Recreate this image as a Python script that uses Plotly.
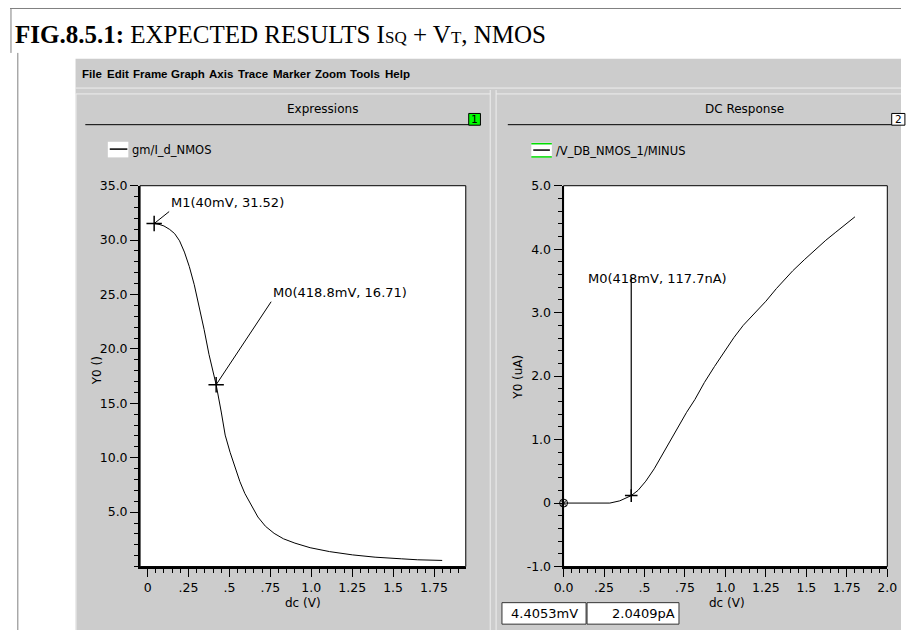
import plotly.graph_objects as go

W, H = 911, 637

# ---------------- data ----------------
# Left panel: gm/I_d of the NMOS vs dc sweep (V)
gm_x = [0.04, 0.07, 0.10, 0.135, 0.165, 0.195, 0.225, 0.255, 0.285, 0.315, 0.345, 0.375,
        0.4188, 0.45, 0.474, 0.504, 0.534, 0.564, 0.594, 0.634, 0.674, 0.72, 0.773,
        0.83, 0.90, 0.993, 1.112, 1.252, 1.39, 1.55, 1.65, 1.8]
gm_y = [31.52, 31.45, 31.3, 30.98, 30.6, 29.94, 28.9, 27.56, 25.9, 23.99, 21.8, 19.5,
        16.71, 14.2, 12.08, 10.5, 9.1, 7.8, 6.72, 5.6, 4.55, 3.7, 3.05,
        2.55, 2.15, 1.73, 1.37, 1.07, 0.86, 0.71, 0.62, 0.56]

# Right panel: /V_DB_NMOS_1/MINUS current (uA) vs dc sweep (V)
id_x = [0.0, 0.1, 0.2, 0.286, 0.347, 0.418, 0.46, 0.508, 0.56, 0.609, 0.66, 0.71, 0.76,
        0.811, 0.87, 0.932, 0.99, 1.053, 1.11, 1.174, 1.25, 1.315, 1.416, 1.49, 1.557,
        1.62, 1.678, 1.74, 1.8]
id_y = [0.0, 0.0, 0.0, 0.0, 0.035, 0.1177, 0.2, 0.345, 0.54, 0.755, 0.99, 1.22, 1.43,
        1.63, 1.9, 2.15, 2.38, 2.61, 2.8, 2.97, 3.18, 3.38, 3.66, 3.84, 4.0,
        4.14, 4.26, 4.39, 4.51]

# markers
left_mk_x = [0.04, 0.4188]
left_mk_y = [31.52, 16.71]
left_mk_lbl = ["M1(40mV, 31.52)", "M0(418.8mV, 16.71)"]
right_mk_x = [0.418]
right_mk_y = [0.1177]
right_mk_lbl = ["M0(418mV, 117.7nA)"]

# ticks
left_xt = [0, 0.25, 0.5, 0.75, 1.0, 1.25, 1.5, 1.75]
left_xt_txt = ["0", ".25", ".5", ".75", "1.0", "1.25", "1.5", "1.75"]
left_yt = [5, 10, 15, 20, 25, 30, 35]
left_yt_txt = ["5.0", "10.0", "15.0", "20.0", "25.0", "30.0", "35.0"]
right_xt = [0, 0.25, 0.5, 0.75, 1.0, 1.25, 1.5, 1.75, 2.0]
right_xt_txt = ["0.0", ".25", ".5", ".75", "1.0", "1.25", "1.5", "1.75", "2.0"]
right_yt = [-1, 0, 1, 2, 3, 4, 5]
right_yt_txt = ["-1.0", "0", "1.0", "2.0", "3.0", "4.0", "5.0"]

menu_items = ["File", "Edit", "Frame", "Graph", "Axis", "Trace", "Marker", "Zoom", "Tools", "Help"]

# ---------------- helpers ----------------
def px(x):
    return x / W

def py(y):
    return 1 - y / H

GRAY = "#cccccc"
LIGHT = "#eeeeee"
UI_FONT = "DejaVu Sans"

shapes = []

def rect(x0, y0, x1, y1, fill=None, line=None, lw=1, layer="below"):
    shapes.append(dict(type="rect", xref="paper", yref="paper",
                       x0=px(x0), x1=px(x1), y0=py(y1), y1=py(y0),
                       fillcolor=fill if fill else "rgba(0,0,0,0)",
                       line=dict(color=line if line else "rgba(0,0,0,0)", width=lw if line else 0),
                       layer=layer))

def hline(x0, x1, y, color, lw=1, layer="below"):
    shapes.append(dict(type="line", xref="paper", yref="paper", x0=px(x0), x1=px(x1),
                       y0=py(y), y1=py(y), line=dict(color=color, width=lw), layer=layer))

def vline(x, y0, y1, color, lw=1, layer="below"):
    shapes.append(dict(type="line", xref="paper", yref="paper", x0=px(x), x1=px(x),
                       y0=py(y0), y1=py(y1), line=dict(color=color, width=lw), layer=layer))

annotations = []

def text(t, x, y, size=12, xanchor="left", yanchor="middle", family=UI_FONT, color="black",
         angle=0):
    annotations.append(dict(text=t, x=px(x), y=py(y), xref="paper", yref="paper",
                            xanchor=xanchor, yanchor=yanchor, showarrow=False,
                            textangle=angle, font=dict(family=family, size=size, color=color)))

# ---------------- page frame ----------------
hline(0, W, 0.5, "#808080")
vline(1, 0, 46, "#808080")
vline(8, 46, H, "#808080")

# screenshot background
rect(67, 52, W, H, fill=GRAY)
hline(67, W, 82, LIGHT)
# panel bevels
hline(67, 491, 88, LIGHT)
hline(497, W, 88, LIGHT)
vline(67.5, 88, H, LIGHT)
vline(491, 84, H, LIGHT)
vline(497, 84, H, LIGHT)

# panel title underlines and numbered boxes
hline(77, 481, 119.5, "black")
hline(509, 902, 119.5, "black")
rect(469, 108, 481, 120, fill="#00ff00", line="black")
text("1", 475, 114, size=11, xanchor="center", family="DejaVu Sans Mono")
rect(901.5, 108, 915, 120, fill="white", line="black")
text("2", 903, 114, size=11, xanchor="left", family="DejaVu Sans Mono")

# legend swatches
rect(100, 137, 121, 153, fill="white")
hline(102, 120, 144.5, "black", lw=1.5)
rect(533, 138, 554, 153, fill="white")
hline(533, 554, 139, "#00dd00", lw=1.5)
hline(533, 554, 152.5, "#00dd00", lw=1.5)
hline(535, 552, 145.5, "black", lw=1.5)

# plot areas (white)
L = (133, 466, 182, 572)
R = (566, 897, 182, 572)
rect(L[0], L[2], L[1], L[3], fill="white", line="black", lw=1)
rect(R[0], R[2], R[1], R[3], fill="white", line="black", lw=1)

# status boxes
rect(503, 609, 589, 631, fill="white", line="#333333")
rect(590, 609, 684, 631, fill="white", line="#333333")
text("4.4053mV", 510, 620, size=13)
text("2.0409pA", 682, 620, size=13, xanchor="right")

# ---------------- texts ----------------
text("<b>FIG.8.5.1:</b> EXPECTED RESULTS I<span style='font-size:17px'>SQ</span> + "
     "V<span style='font-size:17px'>T</span>, NMOS",
     3, 27, size=25, family="Liberation Serif")

# menu words laid out left-to-right (Liberation Sans Bold advance widths, em)
menu_em = {"File": 1.723, "Edit": 1.889, "Frame": 3.001, "Graph": 2.945, "Axis": 2.112,
           "Trace": 2.668, "Marker": 3.279, "Zoom": 2.722, "Tools": 2.667, "Help": 2.167}
MENU_SIZE = 11.5
mx = 72.0
for m in menu_items:
    text("<b>%s</b>" % m, mx, 68, size=MENU_SIZE, family="Liberation Sans")
    mx += menu_em[m] * MENU_SIZE + 5.0

text("Expressions", 320, 103, size=12, xanchor="center")
text("DC Response", 751, 103, size=12, xanchor="center")
text("gm/I_d_NMOS", 123, 145, size=11.5)
text("/V_DB_NMOS_1/MINUS", 556, 146, size=11.5)
text("dc (V)", 300, 609, size=12, xanchor="center")
text("dc (V)", 733, 609, size=12, xanchor="center")
text("Y0 ()", 89, 372, size=12, xanchor="center", angle=-90)
text("Y0 (uA)", 519, 378, size=12, xanchor="center", angle=-90)

# ---------------- figure ----------------
fig = go.Figure()
fig.add_trace(go.Scatter(x=gm_x, y=gm_y, mode="lines", line=dict(color="black", width=1),
                         xaxis="x", yaxis="y", hoverinfo="skip"))
fig.add_trace(go.Scatter(x=left_mk_x, y=left_mk_y, mode="markers", xaxis="x", yaxis="y",
                         marker=dict(symbol="cross-thin", size=11,
                                     line=dict(color="black", width=1.5))))
fig.add_trace(go.Scatter(x=id_x, y=id_y, mode="lines", line=dict(color="black", width=1),
                         xaxis="x2", yaxis="y2", hoverinfo="skip"))
fig.add_trace(go.Scatter(x=right_mk_x, y=right_mk_y, mode="markers", xaxis="x2", yaxis="y2",
                         marker=dict(symbol="cross-thin", size=9,
                                     line=dict(color="black", width=1.5))))
fig.add_trace(go.Scatter(x=id_x[:1], y=id_y[:1], mode="markers", xaxis="x2", yaxis="y2",
                         cliponaxis=False,
                         marker=dict(symbol="circle-x-open", size=8, color="black",
                                     line=dict(width=1))))

# marker callouts
lbl_font = dict(family=UI_FONT, size=13, color="black")
annotations.append(dict(x=left_mk_x[0], y=left_mk_y[0], xref="x", yref="y",
                        text=left_mk_lbl[0], showarrow=True, arrowhead=0, arrowwidth=1,
                        arrowcolor="black", ax=15, ay=-12, xanchor="left", yanchor="bottom",
                        font=lbl_font))
annotations.append(dict(x=left_mk_x[1], y=left_mk_y[1], xref="x", yref="y",
                        text=left_mk_lbl[1], showarrow=True, arrowhead=0, arrowwidth=1,
                        arrowcolor="black", ax=55, ay=-83, xanchor="left", yanchor="bottom",
                        font=lbl_font))
annotations.append(dict(x=right_mk_x[0], y=right_mk_y[0], xref="x2", yref="y2",
                        text="", showarrow=True, arrowhead=0, arrowwidth=1.2,
                        arrowcolor="black", ax=0, ay=-220))
annotations.append(dict(x=right_mk_x[0], y=right_mk_y[0], xref="x2", yref="y2",
                        text=right_mk_lbl[0], showarrow=False, xanchor="left",
                        yanchor="middle", xshift=-45, yshift=217, font=lbl_font))

tickfont = dict(family=UI_FONT, size=12.5, color="black")
axis_common = dict(showgrid=False, zeroline=False, showline=True, linecolor="black",
                   linewidth=2, ticks="outside", ticklen=8, tickwidth=1, tickcolor="black",
                   tickfont=tickfont, tickmode="array", fixedrange=True)

fig.update_layout(
    width=W, height=H, margin=dict(l=0, r=0, t=0, b=0),
    paper_bgcolor="white", plot_bgcolor="white", showlegend=False,
    shapes=shapes, annotations=annotations,
    xaxis=dict(domain=[px(L[0]), px(L[1])], anchor="y", range=[-0.046, 1.944],
               tickvals=left_xt, ticktext=left_xt_txt,
               minor=dict(tick0=0, dtick=0.05, ticks="outside", ticklen=4, tickcolor="black",
                          tickwidth=1, showgrid=False), **axis_common),
    yaxis=dict(domain=[py(L[3]), py(L[2])], anchor="x", range=[0, 35],
               tickvals=left_yt, ticktext=left_yt_txt,
               minor=dict(tick0=0, dtick=1, ticks="outside", ticklen=4, tickcolor="black",
                          tickwidth=1, showgrid=False), **axis_common),
    xaxis2=dict(domain=[px(R[0]), px(R[1])], anchor="y2", range=[0, 2],
                tickvals=right_xt, ticktext=right_xt_txt,
                minor=dict(tick0=0, dtick=0.05, ticks="outside", ticklen=4, tickcolor="black",
                           tickwidth=1, showgrid=False), **axis_common),
    yaxis2=dict(domain=[py(R[3]), py(R[2])], anchor="x2", range=[-1, 5],
                tickvals=right_yt, ticktext=right_yt_txt,
                minor=dict(tick0=-1, dtick=0.2, ticks="outside", ticklen=4, tickcolor="black",
                           tickwidth=1, showgrid=False), **axis_common),
)

fig.write_html("out.html")
